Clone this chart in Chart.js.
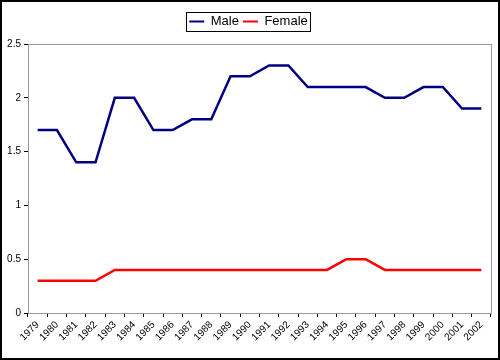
<!DOCTYPE html>
<html>
<head>
<meta charset="utf-8">
<script src="https://cdn.jsdelivr.net/npm/chart.js@4"></script>
<style>
  body { margin: 0; background: #fff; }
  #wrap { width: 500px; height: 360px; box-sizing: border-box; border: 2px solid #000; }
</style>
</head>
<body>
<div id="wrap"><canvas id="chart" width="496" height="356"></canvas></div>
<script>
const years = ['1979','1980','1981','1982','1983','1984','1985','1986','1987','1988','1989','1990',
  '1991','1992','1993','1994','1995','1996','1997','1998','1999','2000','2001','2002'];
const male = [1.7, 1.7, 1.4, 1.4, 2.0, 2.0, 1.7, 1.7, 1.8, 1.8, 2.2, 2.2,
  2.3, 2.3, 2.1, 2.1, 2.1, 2.1, 2.0, 2.0, 2.1, 2.1, 1.9, 1.9];
const female = [0.3, 0.3, 0.3, 0.3, 0.4, 0.4, 0.4, 0.4, 0.4, 0.4, 0.4, 0.4,
  0.4, 0.4, 0.4, 0.4, 0.5, 0.5, 0.4, 0.4, 0.4, 0.4, 0.4, 0.4];

// gray frame on the plot area + box round the legend
const frames = {
  id: 'frames',
  beforeDatasetsDraw(chart) {
    const a = chart.chartArea, ctx = chart.ctx;
    ctx.save();
    ctx.strokeStyle = '#999';
    ctx.lineWidth = 1;
    ctx.strokeRect(a.left + 0.5, a.top + 0.5, a.right - a.left, a.bottom - a.top);
    ctx.restore();
  },
  afterDraw(chart) {
    const hb = chart.legend.legendHitBoxes;
    if (!hb || !hb.length) return;
    const x1 = hb[0].left - 3, y1 = hb[0].top - 3;
    const last = hb[hb.length - 1];
    const x2 = last.left + last.width + 2, y2 = last.top + last.height + 3;
    const ctx = chart.ctx;
    ctx.save();
    ctx.strokeStyle = '#000';
    ctx.lineWidth = 1;
    ctx.strokeRect(Math.round(x1) + 0.5, Math.round(y1) + 0.5, Math.round(x2 - x1), Math.round(y2 - y1));
    ctx.restore();
  }
};

new Chart(document.getElementById('chart'), {
  type: 'line',
  data: {
    labels: years,
    datasets: [
      { label: 'Male', data: male, borderColor: '#000080', backgroundColor: '#000080',
        borderWidth: 2.5, pointRadius: 0, tension: 0 },
      { label: 'Female', data: female, borderColor: '#ff0000', backgroundColor: '#ff0000',
        borderWidth: 2.5, pointRadius: 0, tension: 0 }
    ]
  },
  options: {
    responsive: false,
    animation: false,
    layout: { padding: { left: 4, right: 7, top: 9, bottom: 0 } },
    plugins: {
      tooltip: { enabled: false },
      legend: {
        position: 'top',
        labels: {
          color: '#000',
          font: { family: 'Liberation Sans', size: 13 },
          usePointStyle: true,
          pointStyle: 'line',
          pointStyleWidth: 15,
          padding: 4,
          generateLabels(chart) {
            return Chart.defaults.plugins.legend.labels.generateLabels(chart).map(l => {
              l.lineWidth = 2;
              l.pointStyle = 'line';
              return l;
            });
          }
        }
      }
    },
    scales: {
      x: {
        offset: true,
        grid: { offset: true, drawOnChartArea: false, drawTicks: true, tickLength: 4, color: '#000' },
        border: { color: '#000', width: 1 },
        ticks: { color: '#000', font: { family: 'Liberation Sans', size: 10 },
          maxRotation: 45, minRotation: 45, autoSkip: false, padding: 2 },
        afterFit(s) { s.height = 45; }
      },
      // empty top axis, only there to leave a gap under the legend
      gap: {
        type: 'category',
        position: 'top',
        grid: { display: false },
        border: { display: false },
        ticks: { display: false },
        afterFit(s) { s.height = 6; }
      },
      y: {
        min: 0, max: 2.5,
        grid: { drawOnChartArea: false, drawTicks: true, tickLength: 4, color: '#000' },
        border: { color: '#000', width: 1 },
        ticks: { stepSize: 0.5, color: '#000', font: { family: 'Liberation Sans', size: 10 }, padding: 3,
          callback: v => String(v) },
        afterFit(s) { s.width = 22; }
      }
    }
  },
  plugins: [frames]
});
</script>
</body>
</html>
